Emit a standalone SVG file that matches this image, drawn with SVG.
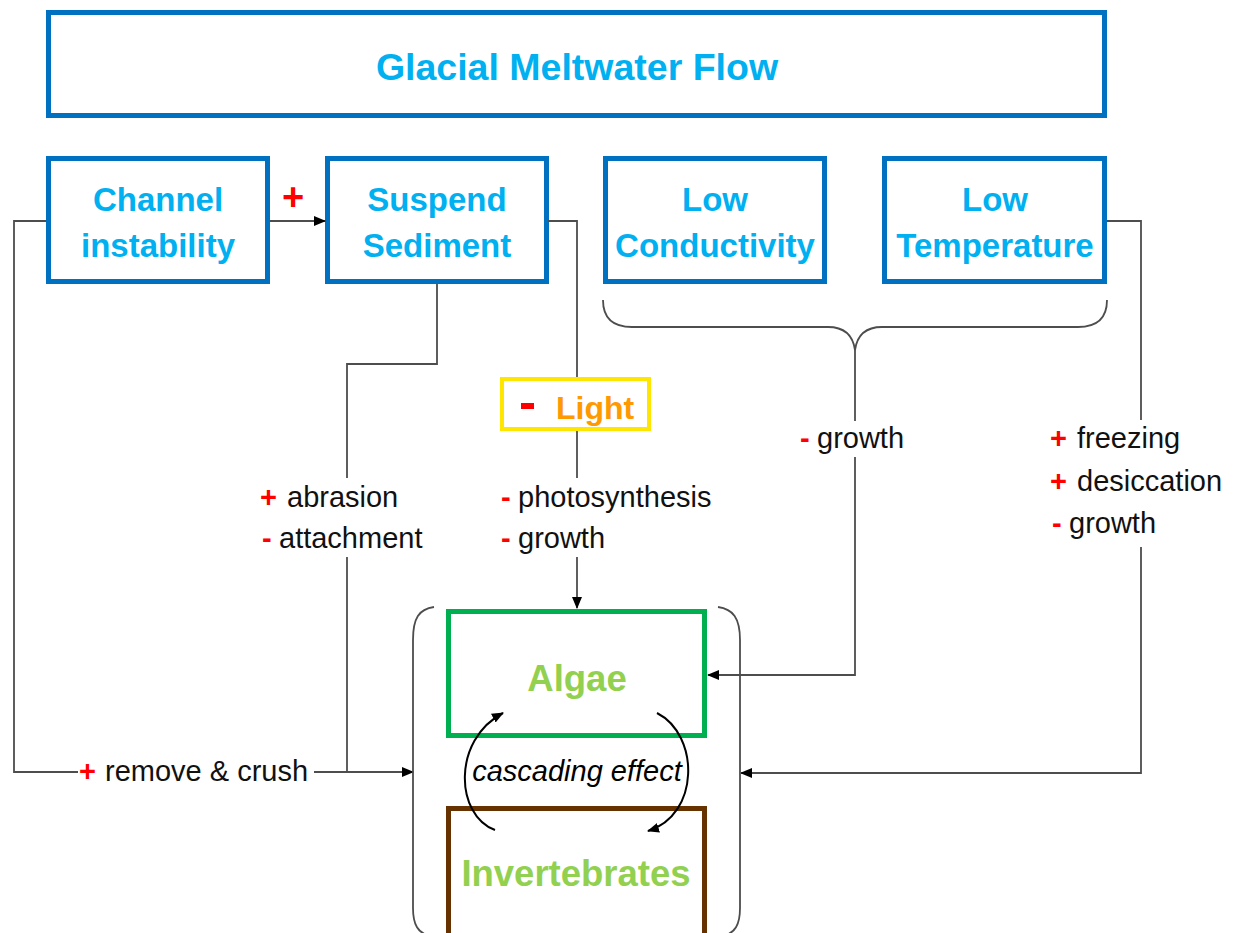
<svg xmlns="http://www.w3.org/2000/svg" width="1234" height="933" viewBox="0 0 1234 933">
<style>
.box{fill:#fff;stroke:#0070C0;stroke-width:5}
.bt{font-family:"Liberation Sans",Arial,sans-serif;font-weight:bold;font-size:33px;fill:#00B0F0;text-anchor:middle}
.lbl{font-family:"Liberation Sans",Arial,sans-serif;font-size:29px;fill:#111}
.sg{font-family:"Liberation Sans",Arial,sans-serif;font-weight:bold;font-size:29px;fill:#FF0000}
.ln{fill:none;stroke:#4D4D4D;stroke-width:1.8}
.arc{fill:none;stroke:#000;stroke-width:2}
.bio{font-family:"Liberation Sans",Arial,sans-serif;font-weight:bold;font-size:36.5px;fill:#92D050;text-anchor:middle}
</style>
<defs>
<marker id="ah" markerUnits="userSpaceOnUse" markerWidth="12" markerHeight="10" refX="11" refY="5" orient="auto" viewBox="0 0 12 10">
<path d="M0,0 L12,5 L0,10 z" fill="#000"/>
</marker>
</defs>
<rect width="1234" height="933" fill="#fff"/>

<g id="title">
<rect class="box" x="48.5" y="12.5" width="1056" height="103"/>
<text class="bt" x="577" y="80" style="font-size:37.5px">Glacial Meltwater Flow</text>
</g>

<g id="channel">
<rect class="box" x="48.5" y="158.5" width="219" height="123"/>
<text class="bt" x="158" y="211">Channel</text>
<text class="bt" x="158" y="257">instability</text>
</g>

<g id="sediment">
<rect class="box" x="327.5" y="158.5" width="219" height="123"/>
<text class="bt" x="437" y="211">Suspend</text>
<text class="bt" x="437" y="257">Sediment</text>
</g>

<g id="conductivity">
<rect class="box" x="605.5" y="158.5" width="219" height="123"/>
<text class="bt" x="715" y="211">Low</text>
<text class="bt" x="715" y="257">Conductivity</text>
</g>

<g id="temperature">
<rect class="box" x="884.5" y="158.5" width="220" height="123"/>
<text class="bt" x="995" y="211">Low</text>
<text class="bt" x="995" y="257">Temperature</text>
</g>

<g id="light">
<rect x="502" y="379" width="147" height="50" fill="#fff" stroke="#FFE600" stroke-width="4"/>
<rect x="521" y="403" width="13" height="6" fill="#FF0000"/>
<text x="556" y="419" font-family="Liberation Sans,Arial,sans-serif" font-weight="bold" font-size="32" fill="#FF9900">Light</text>
</g>

<g id="algae">
<rect x="448.5" y="611.5" width="256" height="124" fill="none" stroke="#00B050" stroke-width="5"/>
<text class="bio" x="577" y="691">Algae</text>
</g>

<g id="invertebrates">
<rect x="448.5" y="808.5" width="256" height="140" fill="none" stroke="#663300" stroke-width="5"/>
<text class="bio" x="576" y="886">Invertebrates</text>
</g>

<g id="connectors">
<line class="ln" x1="270" y1="221" x2="325" y2="221" marker-end="url(#ah)"/>
<polyline class="ln" points="46,221 14,221 14,772 78,772"/>
<line class="ln" x1="314" y1="772" x2="413" y2="772" marker-end="url(#ah)"/>
<polyline class="ln" points="437,284 437,364 347,364 347,478"/>
<line class="ln" x1="347" y1="557" x2="347" y2="772"/>
<polyline class="ln" points="548,221 577,221 577,377"/>
<line class="ln" x1="577" y1="431" x2="577" y2="478"/>
<line class="ln" x1="577" y1="557" x2="577" y2="608" marker-end="url(#ah)"/>
<path class="ln" d="M603,300 C603,318 612,327 632,327 L828,327 C845,327 853,336 855,350 C857,336 865,327 882,327 L1078,327 C1098,327 1107,318 1107,300"/>
<line class="ln" x1="855" y1="350" x2="855" y2="421"/>
<polyline class="ln" points="855,457 855,675 708,675" marker-end="url(#ah)"/>
<polyline class="ln" points="1107,221 1141,221 1141,420"/>
<polyline class="ln" points="1141,547 1141,773 741,773" marker-end="url(#ah)"/>
<path class="ln" d="M434,607 C419,609 413,618 413,640 L413,908 C413,925 418,933 430,936"/>
<path class="ln" d="M718,607 C733,609 740,618 740,640 L740,908 C740,925 735,933 723,936"/>
<path class="arc" d="M495,830 C455,815 452,740 503,713" marker-end="url(#ah)"/>
<path class="arc" d="M657,713 C700,735 700,815 648,831" marker-end="url(#ah)"/>
</g>

<g id="labels">
<text class="sg" x="79" y="781">+</text>
<text class="lbl" x="105" y="781">remove &amp; crush</text>
<text class="sg" x="260" y="507">+</text>
<text class="lbl" x="287" y="507">abrasion</text>
<text class="sg" x="262" y="548">-</text>
<text class="lbl" x="279" y="548">attachment</text>
<text class="sg" x="501" y="507">-</text>
<text class="lbl" x="518" y="507">photosynthesis</text>
<text class="sg" x="501" y="548">-</text>
<text class="lbl" x="518" y="548">growth</text>
<text class="sg" x="800" y="448">-</text>
<text class="lbl" x="817" y="448">growth</text>
<text class="sg" x="1050" y="448">+</text>
<text class="lbl" x="1077" y="448">freezing</text>
<text class="sg" x="1050" y="491">+</text>
<text class="lbl" x="1077" y="491">desiccation</text>
<text class="sg" x="1052" y="533">-</text>
<text class="lbl" x="1069" y="533">growth</text>
<text x="577" y="781" font-family="Liberation Sans,Arial,sans-serif" font-style="italic" font-size="29" fill="#000" text-anchor="middle">cascading effect</text>
<text x="293" y="210" font-family="Liberation Sans,Arial,sans-serif" font-weight="bold" font-size="38" fill="#FF0000" text-anchor="middle">+</text>
</g>
</svg>
